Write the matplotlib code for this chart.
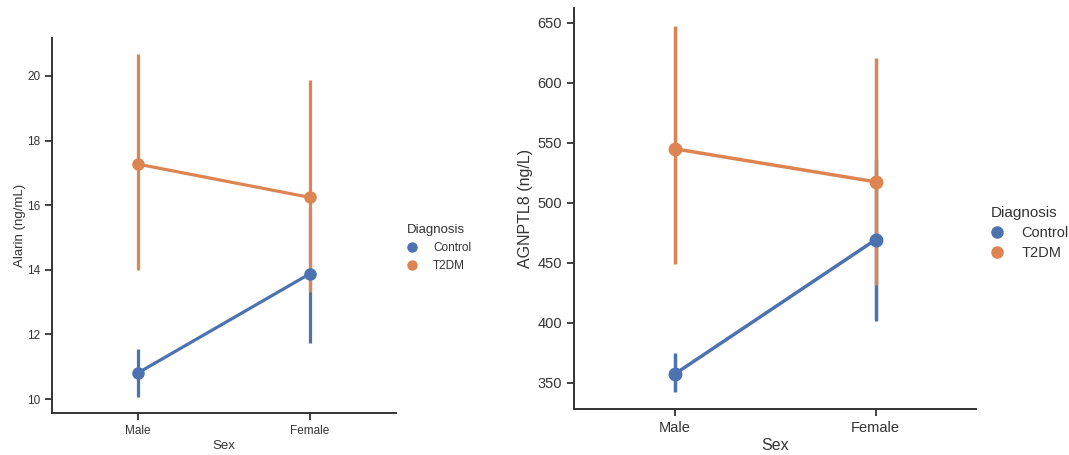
import matplotlib.pyplot as plt

plt.rcParams['font.family'] = ['Liberation Sans', 'DejaVu Sans']

sex = ['Male', 'Female']
groups = ['Control', 'T2DM']
colors = ['#4C72B0', '#DD8452']

# Alarin (ng/mL): mean, CI low, CI high
alarin_control = [10.81, 13.88]
alarin_control_lo = [10.07, 11.74]
alarin_control_hi = [11.56, 15.9]
alarin_t2dm = [17.27, 16.24]
alarin_t2dm_lo = [14.0, 13.3]
alarin_t2dm_hi = [20.67, 19.87]

# AGNPTL8 (ng/L)
angptl8_control = [357.0, 469.0]
angptl8_control_lo = [342.5, 401.7]
angptl8_control_hi = [374.5, 536.0]
angptl8_t2dm = [544.8, 517.3]
angptl8_t2dm_lo = [448.7, 431.4]
angptl8_t2dm_hi = [647.5, 620.3]

spine_c = '#333333'
text_c = '#333333'

fig = plt.figure(figsize=(10.69, 4.55), dpi=100)


def draw(ax, series, ylim, yticks, ylabel, fs, lw, ms, ylabelpad):
    x = list(range(len(sex)))
    handles = []
    for (mean, lo, hi), name, c in zip(series, groups, colors):
        for xi, l, h in zip(x, lo, hi):
            ax.plot([xi, xi], [l, h], color=c, lw=lw, solid_capstyle='butt', zorder=2)
        ax.plot(x, mean, color=c, lw=lw, zorder=2)
        h, = ax.plot(x, mean, 'o', color=c, ms=ms, zorder=3, label=name)
        handles.append(h)
    ax.set_xlim(-0.5, 1.5)
    ax.set_ylim(*ylim)
    ax.set_xticks(x)
    ax.set_xticklabels(sex)
    ax.set_yticks(yticks)
    ax.set_xlabel('Sex', fontsize=fs + 1, color=text_c, labelpad=2)
    ax.set_ylabel(ylabel, fontsize=fs + 1, color=text_c, labelpad=ylabelpad)
    ax.tick_params(labelsize=fs, colors=spine_c, labelcolor=text_c, length=5, width=1.3)
    for s in ['top', 'right']:
        ax.spines[s].set_visible(False)
    for s in ['left', 'bottom']:
        ax.spines[s].set_color(spine_c)
        ax.spines[s].set_linewidth(1.4)
    return handles


def legend(handles, anchor, fs, tfs, ms, spacing, pad):
    leg = fig.legend(handles=handles, title='Diagnosis', loc='center left',
                     bbox_to_anchor=anchor, frameon=False, fontsize=fs,
                     title_fontsize=tfs, handlelength=0.8, handletextpad=pad,
                     labelspacing=spacing, borderpad=0, borderaxespad=0,
                     alignment='left')
    for lh in leg.legend_handles:
        lh.set_markersize(ms)
    leg.get_title().set_color(text_c)
    for t in leg.get_texts():
        t.set_color(text_c)
    return leg


ax1 = fig.add_axes([0.0486, 0.0923, 0.3218, 0.824])
h1 = draw(ax1,
          [(alarin_control, alarin_control_lo, alarin_control_hi),
           (alarin_t2dm, alarin_t2dm_lo, alarin_t2dm_hi)],
          (9.57, 21.17), [10, 12, 14, 16, 18, 20], 'Alarin (ng/mL)', 8.5, 2.3, 8, 1)
legend(h1, (0.381, 0.455), 8.5, 9.5, 6.5, 0.5, 1.4)

ax2 = fig.add_axes([0.537, 0.1011, 0.376, 0.881])
h2 = draw(ax2,
          [(angptl8_control, angptl8_control_lo, angptl8_control_hi),
           (angptl8_t2dm, angptl8_t2dm_lo, angptl8_t2dm_hi)],
          (328, 662), [350, 400, 450, 500, 550, 600, 650], 'AGNPTL8 (ng/L)', 10.5, 2.5, 9, 3)
legend(h2, (0.927, 0.488), 10.5, 11, 8, 0.4, 1.3)

fig.savefig('out.png', dpi=100)
